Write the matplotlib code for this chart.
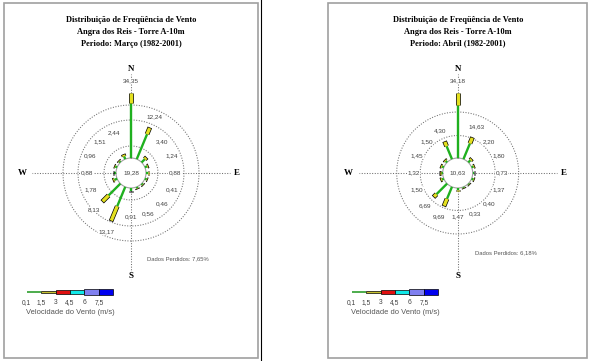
import numpy as np
import matplotlib.pyplot as plt
from matplotlib.patches import Rectangle

W_PX, H_PX = 590, 361

directions = ['N', 'NNE', 'NE', 'ENE', 'E', 'ESE', 'SE', 'SSE',
              'S', 'SSW', 'SW', 'WSW', 'W', 'WNW', 'NW', 'NNW']

# Marco (1982-2001)
mar_freq = ['34,35', '12,24', '3,40', '1,24', '0,88', '0,41', '0,46', '0,56',
            '0,91', '13,17', '8,13', '1,78', '0,88', '0,96', '1,51', '2,44']
mar_calm = '19,28'
mar_green = [54.7, 27.0, 4.5, 2.5, 2.0, 2.0, 1.5, 1.5,
             2.5, 21.0, 16.7, 3.0, 2.0, 2.0, 1.5, 3.0]
mar_yellow = [10.0, 6.6, 2.0, 0.8, 0.5, 0.4, 0.4, 0.4,
              0.4, 15.5, 8.3, 1.0, 0.5, 0.5, 0.5, 1.6]
mar_rings = [27, 53, 68]
mar_lost = 'Dados Perdidos: 7,65%'

# Abril (1982-2001)
abr_freq = ['34,18', '14,63', '2,20', '1,80', '0,73', '1,37', '0,40', '0,33',
            '1,47', '9,69', '6,69', '1,50', '1,32', '1,45', '1,50', '4,30']
abr_calm = '10,63'
abr_green = [53.0, 17.0, 3.0, 2.0, 1.5, 2.0, 1.0, 1.0,
             2.0, 13.0, 15.0, 2.0, 2.0, 2.0, 2.0, 14.0]
abr_yellow = [11.7, 6.0, 1.5, 0.8, 0.3, 0.5, 0.3, 0.3,
              0.5, 7.4, 3.5, 1.0, 0.5, 1.0, 1.0, 4.6]
abr_rings = [37.5, 61]
abr_lost = 'Dados Perdidos: 6,18%'

speed_labels = ['0,1', '1,5', '3', '4,5', '6', '7,5']
speed_colors = ['#2e9e2e', '#c8c230', '#e01010', '#10e8e8', '#8080f0', '#0000f0']

GREEN = '#1fb01f'
YELLOW = '#e4e020'
GRID = '#707070'
TXT = '#404040'
CALM_R = 15
R = 115


def fx(x):
    return x / W_PX


def fy(y):
    return 1 - y / H_PX


def draw_panel(fig, cx, cy, period, freq, calm, green, yellow, rings, lost, lost_xy):
    # titles
    for i, s in enumerate(['Distribuição de Freqüência de Vento',
                           'Angra dos Reis - Torre A-10m',
                           'Periodo: ' + period]):
        fig.text(fx(cx), fy(19.5 + i * 12), s, ha='center', va='center',
                 family='Liberation Serif', weight='bold', fontsize=6)

    ax = fig.add_axes([fx(cx - R), fy(cy + R), 2 * R / W_PX, 2 * R / H_PX],
                      projection='polar')
    ax.set_theta_zero_location('N')
    ax.set_theta_direction(-1)
    ax.set_ylim(0, R)
    ax.axis('off')

    th = np.linspace(0, 2 * np.pi, 400)
    for r in rings:
        ax.plot(th, np.full_like(th, r), ls=(0, (1, 1.5)), color=GRID, lw=0.75)
    ax.plot(th, np.full_like(th, CALM_R), color='#a0a0a0', lw=0.8)

    for a in [0, 90, 180, 270]:
        t = np.deg2rad(a)
        ax.plot([t, t], [CALM_R, 99], ls=(0, (1, 1.5)), color=GRID, lw=0.75)
    for s, a, r in [('N', 0, 104), ('E', 90, 106), ('S', 180, 103), ('W', 270, 109)]:
        ax.text(np.deg2rad(a), r, s, ha='center', va='center', family='Liberation Serif',
                weight='bold', fontsize=6.5, clip_on=False)

    ax.text(0, 0, calm, ha='center', va='center', fontsize=4.6, color=TXT,
            family='Liberation Sans')

    for i, d in enumerate(directions):
        t = np.deg2rad(i * 22.5)
        g_end = CALM_R + green[i]
        tip = g_end + yellow[i]
        ax.plot([t, t], [CALM_R, g_end], color=GREEN, lw=1.7, solid_capstyle='butt')
        ax.plot([t, t], [g_end, tip + 0.7], color='black', lw=3.4, solid_capstyle='butt')
        ax.plot([t, t], [g_end, tip], color=YELLOW, lw=2.4, solid_capstyle='butt')
        lr = max(44, tip + 12.5)
        ax.text(t, lr, freq[i], ha='center', va='center', fontsize=4.6, color=TXT,
                family='Liberation Sans', clip_on=False,
                bbox=dict(boxstyle='square,pad=0.05', fc='white', ec='none'))

    fig.text(fx(lost_xy[0]), fy(lost_xy[1]), lost, ha='center', va='center',
             fontsize=4.2, color='#555555', family='Liberation Sans')


def draw_legend(fig, x0):
    seg = 14.44
    lax = fig.add_axes([fx(x0), fy(298), 6 * seg / W_PX, 12 / H_PX])
    lax.set_xlim(0, 6)
    lax.set_ylim(-6, 6)
    lax.axis('off')
    heights = [0, 2.6, 3.8, 4.6, 5.8, 6.8]
    lax.plot([0, 1], [0, 0], color=speed_colors[0], lw=1.2, solid_capstyle='butt')
    for i in range(1, 6):
        lax.add_patch(Rectangle((i, -heights[i] / 2), 1, heights[i], fc=speed_colors[i],
                                ec='black', lw=0.5, clip_on=False))
    for i, s in enumerate(speed_labels):
        lax.text(i, -10.5, s, ha='center', va='center', fontsize=4.8, color=TXT,
                 family='Liberation Sans', clip_on=False)
    lax.text(-0.05, -20.7, 'Velocidade do Vento (m/s)', ha='left', va='center',
             fontsize=5.4, color='#555555', family='Liberation Sans', clip_on=False)


fig = plt.figure(figsize=(W_PX / 100, H_PX / 100), dpi=100)

for x0, x1 in [(3.5, 258), (328, 587)]:
    fig.add_artist(Rectangle((fx(x0), fy(358)), (x1 - x0) / W_PX, 355 / H_PX,
                             transform=fig.transFigure, fc='none', ec='#a0a0a0', lw=1.2))
fig.add_artist(plt.Line2D([fx(261), fx(261)], [0, 1], transform=fig.transFigure,
                          color='black', lw=0.8))

draw_panel(fig, 131, 173, 'Março (1982-2001)', mar_freq, mar_calm, mar_green,
           mar_yellow, mar_rings, mar_lost, (177.5, 259))
draw_panel(fig, 457.7, 173, 'Abril (1982-2001)', abr_freq, abr_calm, abr_green,
           abr_yellow, abr_rings, abr_lost, (505.8, 252.7))
draw_legend(fig, 26.7)
draw_legend(fig, 351.7)

fig.savefig('out.png', dpi=100)
